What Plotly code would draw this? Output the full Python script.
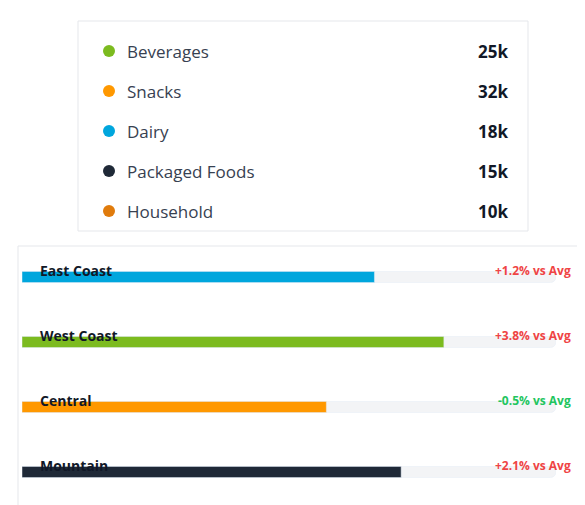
import plotly.graph_objects as go

W, H = 585, 505
OFF = 8  # page offset of the plot inside the browser window

categories = ["Beverages", "Snacks", "Dairy", "Packaged Foods", "Household"]
cat_values = ["25k", "32k", "18k", "15k", "10k"]
cat_colors = ["#7cbb1f", "#ff9800", "#00a6dd", "#1f2937", "#e07b0c"]

regions = ["East Coast", "West Coast", "Central", "Mountain"]
region_share = [66, 79, 57, 71]
region_delta = ["+1.2% vs Avg", "+3.8% vs Avg", "-0.5% vs Avg", "+2.1% vs Avg"]
delta_colors = ["#ef4444", "#ef4444", "#22c55e", "#ef4444"]
region_colors = ["#00a6dd", "#7cbb1f", "#ff9800", "#1f2937"]

FONT = "Open Sans"
fig = go.Figure()

# cards
fig.add_shape(type="rect", x0=62, x1=512, y0=5, y1=215, xref="x", yref="y",
              line=dict(color="#e5e7eb", width=1), fillcolor="white", layer="below")
fig.add_shape(type="rect", x0=2, x1=574, y0=230, y1=496, xref="x", yref="y",
              line=dict(color="#e5e7eb", width=1), fillcolor="white", layer="below")

# category list
row_y = [35 + 40 * i for i in range(len(categories))]
fig.add_trace(go.Scatter(x=[93] * len(categories), y=row_y, mode="markers",
                         marker=dict(size=12, color=cat_colors), hoverinfo="skip",
                         xaxis="x", yaxis="y"))
for yy, name, val in zip(row_y, categories, cat_values):
    fig.add_annotation(x=109, y=yy, text=name, xref="x", yref="y", showarrow=False,
                       xanchor="left", font=dict(family=FONT, size=17, color="#374151"))
    fig.add_annotation(x=494, y=yy, text=f"<b>{val}</b>", xref="x", yref="y", showarrow=False,
                       xanchor="right", font=dict(family=FONT, size=17, color="#111827"))

# region bars
fig.add_trace(go.Bar(y=regions, x=[100] * len(regions), orientation="h", width=0.17,
                     marker=dict(color="#f3f4f6", cornerradius=6), hoverinfo="skip",
                     xaxis="x2", yaxis="y2"))
fig.add_trace(go.Bar(y=regions, x=region_share, orientation="h", width=0.17,
                     marker=dict(color=region_colors, cornerradius=6),
                     xaxis="x2", yaxis="y2"))
for i, (name, d, c) in enumerate(zip(regions, region_delta, delta_colors)):
    ly = 254 + 65 * i
    fig.add_annotation(x=22, y=ly, text=f"<b>{name}</b>", xref="x", yref="y", showarrow=False,
                       xanchor="left", font=dict(family=FONT, size=14, color="#111827"))
    fig.add_annotation(x=557, y=ly, text=f"<b>{d}</b>", xref="x", yref="y", showarrow=False,
                       xanchor="right", font=dict(family=FONT, size=12, color=c))

fig.update_layout(
    width=W, height=H, margin=dict(l=0, r=0, t=0, b=0),
    paper_bgcolor="white", plot_bgcolor="rgba(0,0,0,0)",
    showlegend=False, barmode="overlay",
    xaxis=dict(range=[-OFF, W - OFF], domain=[0, 1], visible=False, fixedrange=True),
    yaxis=dict(range=[H - OFF, -OFF], domain=[0, 1], visible=False, fixedrange=True),
    xaxis2=dict(range=[0, 100], domain=[(22 - OFF) / W, (556 - OFF) / W],
                visible=False, anchor="y2"),
    yaxis2=dict(domain=[1 - (504.5 - OFF) / H, 1 - (244.5 - OFF) / H], autorange="reversed",
                visible=False, anchor="x2", categoryorder="array", categoryarray=regions),
)

fig.write_html("out.html")
